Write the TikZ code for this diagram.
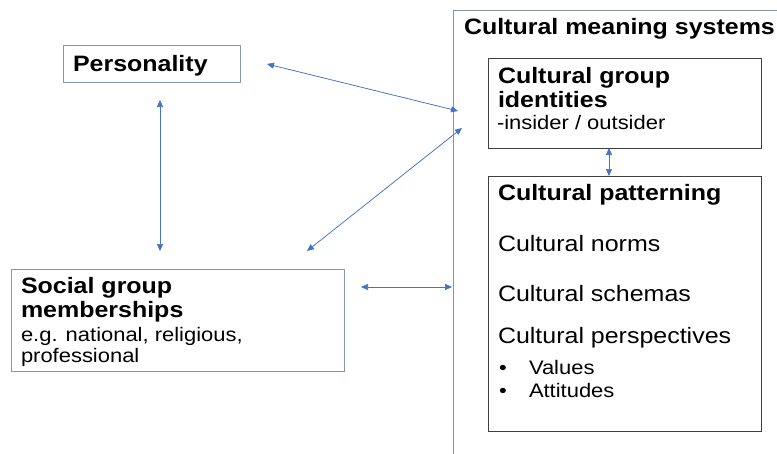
\documentclass[tikz,border=0pt]{standalone}
\usepackage{fontspec}
\setmainfont{Liberation Sans}[FakeStretch=1.12]
\usetikzlibrary{arrows.meta}
\definecolor{arrowblue}{HTML}{4472C4}
\definecolor{lightborder}{HTML}{8496B0}
\definecolor{darkborder}{HTML}{404040}
\definecolor{outerline}{HTML}{8A93A5}
\tikzset{
  lightbox/.style={draw=lightborder, line width=0.9pt, anchor=north west, inner sep=0pt},
  darkbox/.style={draw=darkborder, line width=0.9pt, anchor=north west, inner sep=0pt},
  txt/.style={anchor=base west, inner sep=0pt, outer sep=0pt},
  titlef/.style={font=\fontsize{22.3}{25}\selectfont\bfseries},
  itemf/.style={font=\fontsize{22.3}{25}\selectfont},
  subf/.style={font=\fontsize{19.6}{22}\selectfont},
  link/.style={draw=arrowblue, line width=0.7pt, {Triangle[length=7pt,width=6pt]}-{Triangle[length=7pt,width=6pt]}, fill=arrowblue}
}
\begin{document}
\begin{tikzpicture}[x=1pt,y=-1pt]
\useasboundingbox (0,0) rectangle (777,453);
\fill[white] (0,0) rectangle (777,453);
% outer frame
\draw[outerline, line width=0.9pt] (453,460) -- (453,10) -- (790,10);
\node[txt, titlef] (cms) at (464,34) {Cultural meaning systems};
% boxes
\node[lightbox, minimum width=177pt, minimum height=37pt] (pers) at (63,45) {};
\node[lightbox, minimum width=333pt, minimum height=102pt] (social) at (10.5,269) {};
\node[darkbox, minimum width=273pt, minimum height=90pt] (ident) at (488,58) {};
\node[darkbox, minimum width=273pt, minimum height=255pt] (patt) at (488,176) {};
% texts
\node[txt, titlef] (perst) at (73,71) {Personality};
\node[txt, titlef] (soc1) at (21,293) {Social group};
\node[txt, titlef] (soc2) at (21,317) {memberships};
\node[txt, subf] (soc3) at (21,341) {e.g. national, religious,};
\node[txt, subf] (soc4) at (21,362) {professional};
\node[txt, titlef] (id1) at (498,83) {Cultural group};
\node[txt, titlef] (id2) at (498,107) {identities};
\node[txt, subf] (id3) at (497,129) {-insider / outsider};
\node[txt, titlef] (pt1) at (498,200) {Cultural patterning};
\node[txt, itemf] (pt2) at (498,251) {Cultural norms};
\node[txt, itemf] (pt3) at (498,301) {Cultural schemas};
\node[txt, itemf] (pt4) at (498,343) {Cultural perspectives};
\node[txt, subf] (b1) at (499,374) {•};
\node[txt, subf] (v1) at (529,374) {Values};
\node[txt, subf] (b2) at (499,397) {•};
\node[txt, subf] (v2) at (529,397) {Attitudes};
% connector end points
\coordinate (a1s) at (267,64);
\coordinate (a1e) at (458,111);
\coordinate (a2s) at (160,100);
\coordinate (a2e) at (160,251);
\coordinate (a3s) at (462,128);
\coordinate (a3e) at (307,251);
\coordinate (a4s) at (361,287);
\coordinate (a4e) at (452,287);
\coordinate (a5s) at (609,148);
\coordinate (a5e) at (609,176);
% connectors
\draw[link] (a1s) -- (a1e);
\draw[link] (a2s) -- (a2e);
\draw[link] (a3s) -- (a3e);
\draw[link] (a4s) -- (a4e);
\draw[link] (a5s) -- (a5e);
\end{tikzpicture}
\end{document}
